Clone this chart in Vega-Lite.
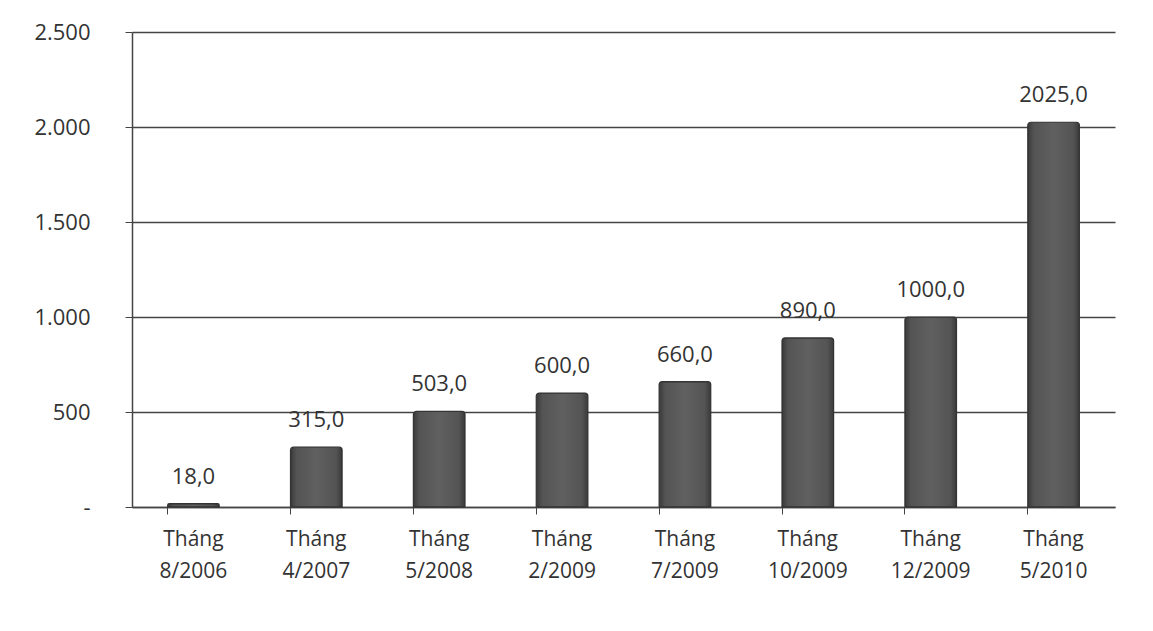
{
  "$schema": "https://vega.github.io/schema/vega-lite/v6.json",
  "autosize": "none",
  "width": 983,
  "height": 475,
  "padding": {"left": 132, "top": 32, "right": 38, "bottom": 124},
  "background": "#ffffff",
  "config": {
    "locale": {"number": {"decimal": ",", "thousands": ".", "grouping": [3], "currency": ["", ""]}},
    "view": {"stroke": null},
    "font": "Open Sans"
  },
  "data": {
    "values": [
      {"period": "Tháng 8/2006", "value": 18},
      {"period": "Tháng 4/2007", "value": 315},
      {"period": "Tháng 5/2008", "value": 503},
      {"period": "Tháng 2/2009", "value": 600},
      {"period": "Tháng 7/2009", "value": 660},
      {"period": "Tháng 10/2009", "value": 890},
      {"period": "Tháng 12/2009", "value": 1000},
      {"period": "Tháng 5/2010", "value": 2025}
    ]
  },
  "encoding": {
    "x": {
      "field": "period", "type": "nominal", "sort": null,
      "scale": {"paddingInner": 0.58, "paddingOuter": 0.29},
      "axis": {
        "title": null, "labelAngle": 0, "bandPosition": 0,
        "labelExpr": "split(datum.label, ' ')",
        "labelFontSize": 21, "labelColor": "#333333", "labelLineHeight": 32,
        "labelPadding": 14, "tickSize": 7, "tickColor": "#444444",
        "domainColor": "#444444", "domainWidth": 1.5
      }
    },
    "y": {
      "field": "value", "type": "quantitative",
      "scale": {"domain": [0, 2500], "nice": false},
      "axis": {
        "title": null, "values": [0, 500, 1000, 1500, 2000, 2500], "format": ",d",
        "labelExpr": "datum.value == 0 ? '-' : datum.label",
        "labelFontSize": 22, "labelColor": "#333333", "labelPadding": 35,
        "tickSize": 7, "tickColor": "#444444",
        "grid": true, "gridColor": "#444444", "gridWidth": 1.3,
        "domainColor": "#444444", "domainWidth": 1.5
      }
    }
  },
  "layer": [
    {
      "mark": {
        "type": "bar",
        "stroke": "#333333", "strokeWidth": 1.2,
        "cornerRadiusTopLeft": 3, "cornerRadiusTopRight": 3,
        "color": {
          "gradient": "linear", "x1": 0, "x2": 1, "y1": 0, "y2": 0,
          "stops": [
            {"offset": 0, "color": "#3a3a3a"},
            {"offset": 0.12, "color": "#545454"},
            {"offset": 0.5, "color": "#606060"},
            {"offset": 0.88, "color": "#545454"},
            {"offset": 1, "color": "#3a3a3a"}
          ]
        }
      }
    },
    {
      "mark": {"type": "text", "baseline": "alphabetic", "dy": -20, "fontSize": 22, "color": "#333333"},
      "encoding": {"text": {"field": "value", "type": "quantitative", "format": ".1f"}}
    }
  ]
}
